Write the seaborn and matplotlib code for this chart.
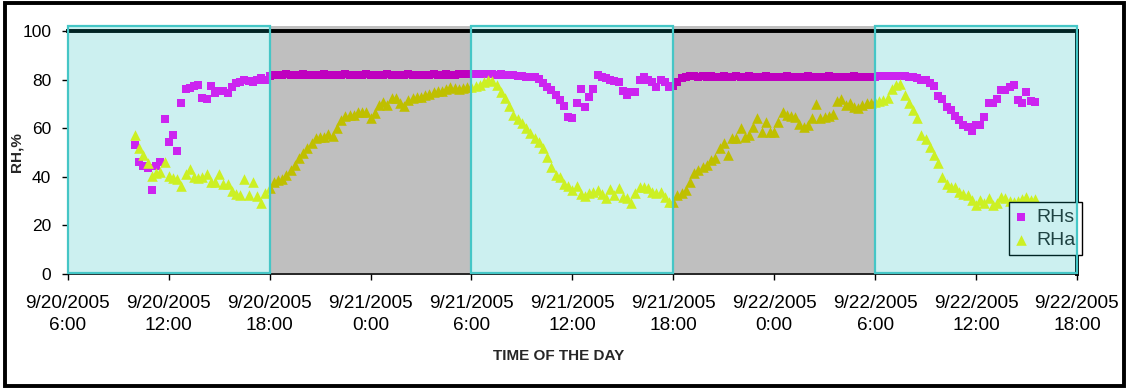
import pandas as pd
import matplotlib.pyplot as plt
import matplotlib.dates as mdates
import seaborn as sns
from matplotlib.patches import Rectangle
from matplotlib.ticker import FuncFormatter

# readings every 15 minutes, first one at 9/20/2005 10:00
START = '2005-09-20 10:00'

# RHs (sensor) - one row per hour
rhs = [
    53, 46, 44.5, 43.5,  34.6, 44.5, 46, 64,  54.4, 57.2, 50.8, 70.5,
    76, 76.5, 77.5, 78,  72.5, 72, 77.5, 74.5,  75.5, 75.5, 74.5, 77,
    78.5, 79, 80, 79.5,  79, 80, 80.5, 80,
    81.5, 82, 82.1, 81.9,  82.2, 82, 81.8, 82.1,  82.2, 82, 81.9, 82.1,
    82, 82.2, 82.1, 81.8,  82, 82.1, 82.2, 82,  81.9, 82.1, 82, 82.2,
    82.1, 81.9, 82, 82.1,  82.2, 82, 81.9, 82.1,  82, 82.2, 82.1, 81.9,
    82, 82.1, 82, 82.2,  82.1, 82, 82.2, 82.1,  82, 82.2, 82.3, 82.2,
    82.4, 82.3, 82.4, 82.3,  82.2, 82.3, 82.1, 82.2,  82, 81.9, 81.8, 81.6,
    81.5, 81.2, 81.2, 81,  80.1, 78.5, 77.1, 75.7,  73.7, 71.6, 69.1, 64.7,
    64.1, 70.2, 76.1, 68.6,  73, 76.1, 81.9, 81.2,  80.5, 79.8, 79.4, 79.1,
    75.3, 73.7, 74.8, 74.8,  80, 81, 79.8, 79.1,  77.1, 80, 79.1, 77.1,
    77.4, 79.1, 80.5, 81.2,  81.5, 81.4, 81.3, 81.4,  81.2, 81.4, 81.3, 81.2,
    81.4, 81.3, 81.2, 81.4,  81.3, 81.2, 81.4, 81.3,  81.2, 81.3, 81.4, 81.2,
    81.3, 81.2, 81.3, 81.4,  81.2, 81.3, 81.1, 81.3,  81.4, 81.2, 81.3, 81.2,
    81.3, 81.4, 81.2, 81.3,  81.2, 81.3, 81.2, 81.4,  81.3, 81.2, 81.3, 81.2,
    81.3, 81.5, 81.6, 81.7,  81.7, 81.6, 81.5, 81.4,  81.2, 81, 80.6, 80,
    79.8, 78.7, 77.4, 73.3,  71.9, 68.9, 67.5, 65,  63.4, 61.3, 60.4, 59,
    61.3, 61.3, 64.7, 70.2,  70.2, 71.9, 75.7, 75.7,  77.1, 77.8, 71.6, 70.2,
    75, 71.3, 70.9,
]

# RHa (ambient)
rha = [
    57, 52, 49, 45.5,  40.3, 41.5, 42, 46,  40.5, 39.5, 39, 36,
    41, 43, 40, 39.5,  40, 41, 38, 38,  41, 37, 37, 34,
    33, 32.5, 39, 32.5,  38, 32, 29, 33.5,
    35.5, 38, 38.7, 39,  40.7, 42.8, 45, 47.6,  49.7, 51.7, 53.8, 55.8,
    56.5, 56.5, 57.6, 56.8,  60, 63.4, 65, 65.4,  65.4, 66.8, 66.8, 66.8,
    64.1, 66.1, 69.5, 70.9,  69.5, 72.3, 72.3, 70.2,  69.1, 71.7, 72.3, 72.7,
    73, 73.7, 74, 75,  75.3, 75.5, 76, 77,  76.5, 76, 76.5, 77,
    77, 77.5, 78, 79,  79.8, 79.5, 77.8, 75,  72.3, 69.1, 65.4, 63.7,
    62, 59.9, 57.9, 55.8,  54.4, 51.7, 48.3, 44.2,  40.6, 39.9, 37, 36.1,
    34.5, 36, 33, 32.1,  33.5, 33.9, 34.6, 32.9,  31.1, 34.8, 32.5, 35.3,
    31.8, 31.1, 29.1, 33.2,  35.9, 35.9, 35.3, 33.9,  33.5, 33.9, 31.8, 29.8,
    29.4, 32.5, 33.2, 34.6,  38, 41.4, 42.8, 44.2,  44.9, 46.9, 47.6, 51.7,
    53.8, 49, 55.8, 55.8,  59.9, 56.4, 57.2, 60.6,  64.1, 58.6, 62.7, 58.6,
    58.6, 62.7, 66.8, 65.4,  65, 64.5, 61.7, 60.4,  61.3, 64.1, 70, 64.1,
    64.5, 65, 65.8, 71.3,  71.9, 69.5, 70.5, 68.9,  68.2, 69.5, 70.5, 70.5,
    70.9, 71.3, 71.6, 72.3,  76, 77.8, 78.2, 73.7,  70.5, 67.5, 64.1, 57.2,
    55.6, 52.4, 49, 45.8,  40, 37, 35.9, 35.9,  33.9, 32.9, 32.5, 30.5,
    28.4, 30.5, 29.1, 31.1,  28.4, 29.1, 31.8, 31.1,  30, 29.5, 30, 31,
    31.8, 30.5, 31,
]

day_bands = [('2005-09-20 06:00', '2005-09-20 18:00'),
             ('2005-09-21 06:00', '2005-09-21 18:00'),
             ('2005-09-22 06:00', '2005-09-22 18:00')]
night_bands = [('2005-09-20 18:00', '2005-09-21 06:00'),
               ('2005-09-21 18:00', '2005-09-22 06:00')]

times = pd.date_range(START, periods=len(rhs), freq='15min')
df = pd.DataFrame({'time': mdates.date2num(times), 'RHs': rhs, 'RHa': rha})

sns.set_style('white')
plt.rcParams['font.family'] = ['Liberation Sans', 'DejaVu Sans']

fig = plt.figure(figsize=(11.3, 3.89), dpi=100)
ax = fig.add_axes([0.060, 0.296, 0.893, 0.624])

sns.scatterplot(data=df, x='time', y='RHs', marker='s', s=40, color='#FF00FF',
                linewidth=0, label='RHs', ax=ax, zorder=2)
sns.scatterplot(data=df, x='time', y='RHa', marker='^', s=58, color='#FFFF00',
                linewidth=0, label='RHa', ax=ax, zorder=2)

# day / night shading laid over the points
for a, b in day_bands:
    ax.axvspan(mdates.date2num(pd.Timestamp(a)), mdates.date2num(pd.Timestamp(b)),
               ymin=0.005, ymax=1.02, facecolor=(0.0, 0.71, 0.71, 0.2),
               edgecolor='#45C6C6', linewidth=1.6, zorder=6, clip_on=False)
for a, b in night_bands:
    ax.axvspan(mdates.date2num(pd.Timestamp(a)), mdates.date2num(pd.Timestamp(b)),
               ymin=0.005, ymax=1.02, facecolor=(0, 0, 0, 0.25),
               linewidth=0, zorder=5.5, clip_on=False)

ax.set_xlim(mdates.date2num(pd.Timestamp('2005-09-20 06:00')),
            mdates.date2num(pd.Timestamp('2005-09-22 18:00')))
ax.set_ylim(0, 100)
ax.set_yticks(range(0, 101, 20))
ax.xaxis.set_major_locator(mdates.HourLocator(byhour=[0, 6, 12, 18]))


def fmt(v, pos):
    d = mdates.num2date(v)
    return f'{d.month}/{d.day}/{d.year}\n{d.hour}:{d.minute:02d}'


ax.xaxis.set_major_formatter(FuncFormatter(fmt))
ax.tick_params(axis='x', direction='out', length=4.5, width=1, pad=11,
               labelsize=13.7, colors='black')
ax.tick_params(axis='y', direction='out', length=4, width=1, pad=8,
               labelsize=12.5, colors='black')
ax.tick_params(bottom=True, left=True)
for t in ax.get_xticklabels():
    t.set_linespacing(1.35)

for side in ['left', 'bottom']:
    ax.spines[side].set_color('black')
    ax.spines[side].set_linewidth(1.2)
for side in ['top', 'right']:
    ax.spines[side].set_color('black')
    ax.spines[side].set_linewidth(2.8)

ax.set_xlabel('TIME OF THE DAY', fontsize=11, fontweight='bold')
ax.set_ylabel('RH,%', fontsize=11, fontweight='bold')
ax.xaxis.set_label_coords(0.486, -0.31)
ax.yaxis.set_label_coords(-0.044, 0.5)

leg = ax.legend(loc='lower right', bbox_to_anchor=(1.005, 0.078), fontsize=14,
                frameon=True, fancybox=False, framealpha=1, edgecolor='black',
                handlelength=0.7, handletextpad=0.45, borderpad=0.3,
                labelspacing=0.3, borderaxespad=0, markerscale=1.0)
leg.get_frame().set_linewidth(1)
leg.set_zorder(5)

# outer frame round the whole chart
fig.patches.append(Rectangle((0.004, 0.008), 0.991, 0.984, transform=fig.transFigure,
                             fill=False, edgecolor='black', linewidth=2.8))

fig.savefig('out.png', dpi=100)
